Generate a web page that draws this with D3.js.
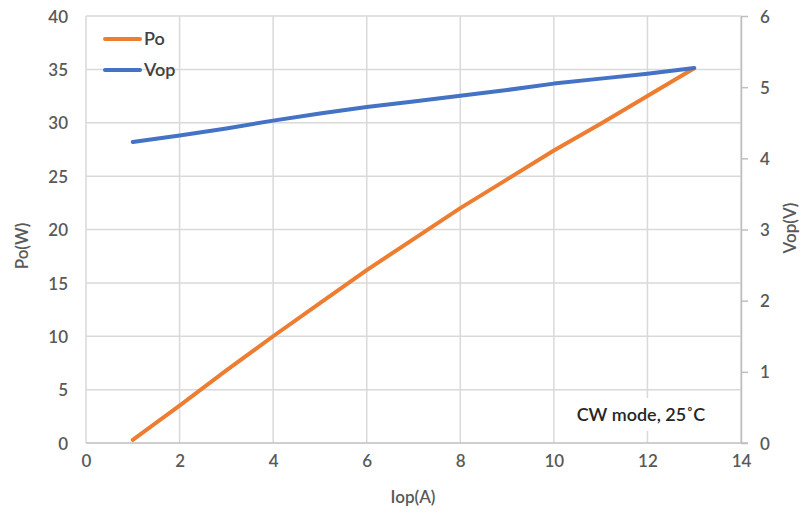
<!DOCTYPE html>
<html>
<head>
  <meta charset="utf-8">
  <title>Po / Vop vs Iop</title>
  <script src="https://d3js.org/d3.v7.min.js"></script>
  <style>
    body { margin: 0; background: #fff; }
    text { font-family: Lato, "Open Sans", sans-serif; fill: #595959; font-weight: 600; }
    .grid line { stroke: #d9d9d9; stroke-width: 1.5px; }
    .axis path, .axis line { stroke: #bfbfbf; stroke-width: 1.5px; }
    .axis text { font-size: 17px; fill: #595959; }
    .series { fill: none; stroke-width: 4px; stroke-linejoin: round; stroke-linecap: round; }
  </style>
</head>
<body>
  <svg width="802" height="521"></svg>
  <script>
    // data
    const iop = [1, 2, 3, 4, 5, 6, 7, 8, 9, 10, 11, 12, 13];
    const po = [0.3, 3.5, 6.8, 10.0, 13.1, 16.2, 19.1, 22.0, 24.7, 27.4, 29.9, 32.5, 35.1];
    const vop = [4.23, 4.32, 4.42, 4.53, 4.63, 4.72, 4.80, 4.88, 4.96, 5.05, 5.12, 5.19, 5.27];
    const xTicks = [0, 2, 4, 6, 8, 10, 12, 14];
    const yLeftTicks = [0, 5, 10, 15, 20, 25, 30, 35, 40];
    const yRightTicks = [0, 1, 2, 3, 4, 5, 6];

    const svg = d3.select("svg");
    const m = { left: 86, right: 741, top: 16, bottom: 443 };

    const x = d3.scaleLinear().domain([0, 14]).range([m.left, m.right]);
    const yL = d3.scaleLinear().domain([0, 40]).range([m.bottom, m.top]);
    const yR = d3.scaleLinear().domain([0, 6]).range([m.bottom, m.top]);

    // gridlines
    const grid = svg.append("g").attr("class", "grid");
    grid.selectAll(".h").data(yLeftTicks.slice(1)).enter().append("line")
      .attr("x1", m.left).attr("x2", m.right)
      .attr("y1", d => yL(d)).attr("y2", d => yL(d));
    grid.selectAll(".v").data(xTicks).enter().append("line")
      .attr("x1", d => x(d)).attr("x2", d => x(d))
      .attr("y1", m.top).attr("y2", m.bottom);

    // bottom axis
    const xAxis = svg.append("g").attr("class", "axis")
      .attr("transform", `translate(0,${m.bottom})`)
      .call(d3.axisBottom(x).tickValues(xTicks).tickSize(0).tickPadding(12));
    xAxis.select(".domain").attr("d", `M${m.left},0H${m.right + 7}`);

    // left axis (labels only)
    const yAxisL = svg.append("g").attr("class", "axis")
      .attr("transform", `translate(${m.left},0)`)
      .call(d3.axisLeft(yL).tickValues(yLeftTicks).tickSize(0).tickPadding(18));
    yAxisL.select(".domain").remove();

    // right axis
    svg.append("g").attr("class", "axis")
      .attr("transform", `translate(${m.right},0)`)
      .call(d3.axisRight(yR).tickValues(yRightTicks).tickFormat(d3.format("d"))
        .tickSize(7).tickSizeOuter(0).tickPadding(12));

    svg.selectAll(".axis text").attr("dy", "0.36em");
    xAxis.selectAll("text").attr("dy", "0.71em");

    // axis titles
    svg.append("text").attr("x", 413).attr("y", 503)
      .attr("text-anchor", "middle").attr("font-size", 17).text("Iop(A)");
    svg.append("text").attr("transform", "translate(28,246) rotate(-90)")
      .attr("text-anchor", "middle").attr("font-size", 17).text("Po(W)");
    svg.append("text").attr("transform", "translate(796,228) rotate(-90)")
      .attr("text-anchor", "middle").attr("font-size", 17).text("Vop(V)");

    // annotation
    svg.append("rect").attr("x", 566).attr("y", 398).attr("width", 152).attr("height", 33).attr("fill", "#fff");
    svg.append("text").attr("x", 641).attr("y", 421).attr("text-anchor", "middle")
      .attr("font-size", 18).style("fill", "#262626").text("CW mode, 25˚C");

    // series
    const lineL = d3.line().x((d, i) => x(iop[i])).y(d => yL(d));
    const lineR = d3.line().x((d, i) => x(iop[i])).y(d => yR(d));

    svg.append("path").datum(po).attr("class", "series")
      .attr("stroke", "#ED7D31").attr("d", lineL);
    svg.append("path").datum(vop).attr("class", "series")
      .attr("stroke", "#4472C4").attr("d", lineR);

    // legend
    const legend = [
      { name: "Po", color: "#ED7D31", y: 39 },
      { name: "Vop", color: "#4472C4", y: 70 }
    ];
    const lg = svg.selectAll(".legend").data(legend).enter().append("g");
    lg.append("line")
      .attr("x1", 105).attr("x2", 140)
      .attr("y1", d => d.y).attr("y2", d => d.y)
      .attr("stroke", d => d.color).attr("stroke-width", 4).attr("stroke-linecap", "round");
    lg.append("text").attr("x", 144).attr("y", d => d.y).attr("dy", "0.36em")
      .attr("font-size", 18).style("fill", "#404040").text(d => d.name);
  </script>
</body>
</html>
